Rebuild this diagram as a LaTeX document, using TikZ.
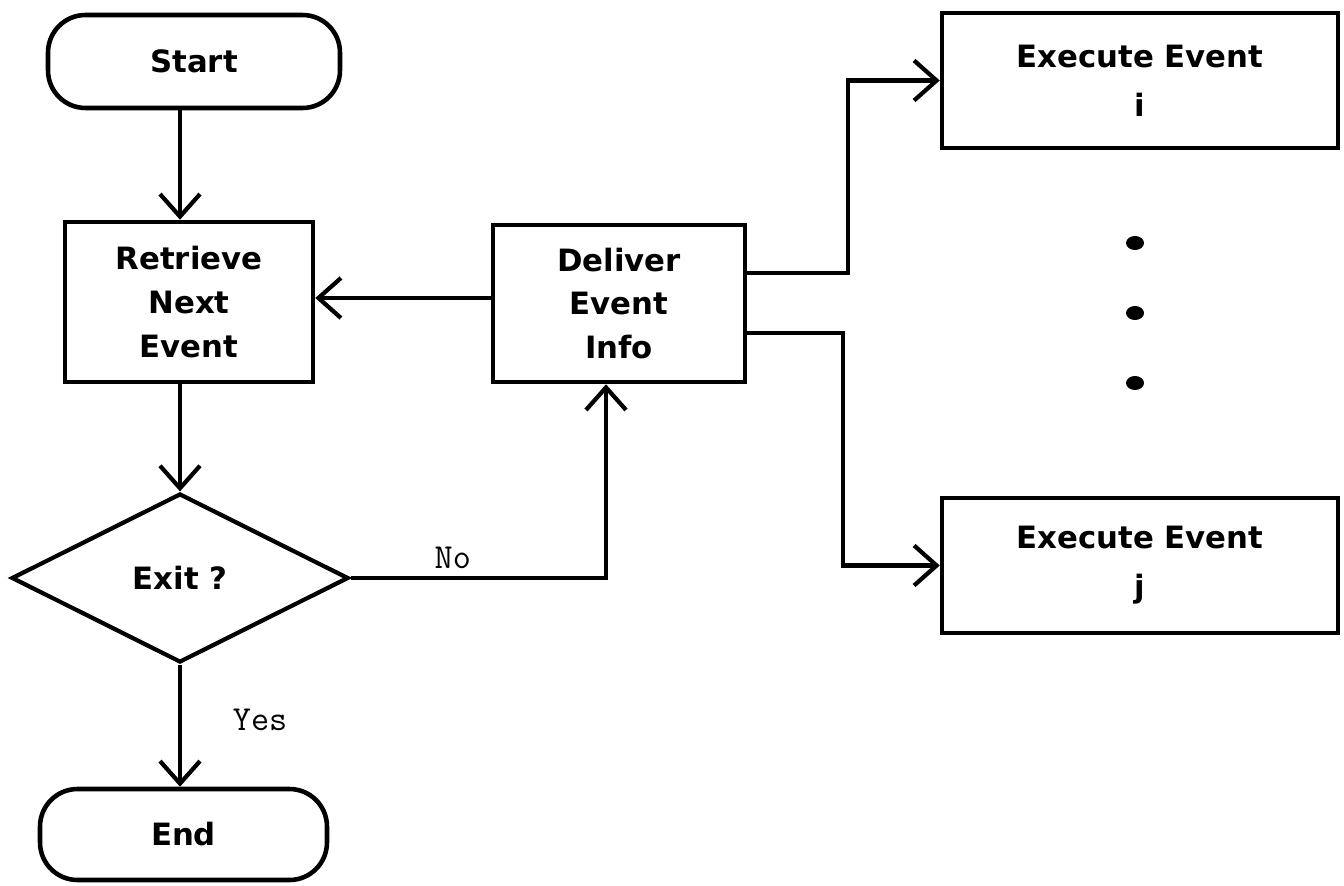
\documentclass[tikz,border=0pt]{standalone}
\usepackage{fontspec}
\setmainfont{DejaVu Sans}
\usetikzlibrary{arrows.meta,shapes.geometric}
\begin{document}
\begin{tikzpicture}[x=0.02cm,y=-0.02cm,
  box/.style={draw,line width=2.6pt,align=center,inner sep=0pt,
    font=\fontsize{17.5}{25}\selectfont\bfseries},
  term/.style={box,rounded corners=0.75cm},
  dec/.style={box,diamond,line width=2.4pt},
  exbox/.style={box,minimum width=7.92cm,minimum height=2.7cm,
    font=\fontsize{17.5}{28}\selectfont\bfseries},
  conn/.style={line width=2.4pt,-{Straight Barb[length=0.45cm,width=0.8cm]}},
  lbl/.style={font=\fontsize{20}{22}\selectfont\ttfamily},
  dotmark/.style={fill=black}]
\useasboundingbox[fill=white] (0,0) rectangle (1344,885);

\node[term,minimum width=5.84cm,minimum height=1.86cm] (start) at (194,61.5) {Start};
\node[box,minimum width=4.96cm,minimum height=3.2cm] (retrieve) at (189,302) {Retrieve\\Next\\Event};
\node[dec,minimum width=6.74cm,minimum height=3.38cm] (exit) at (180,578) {Exit ?};
\node[term,minimum width=5.74cm,minimum height=1.82cm] (end) at (183.5,834.5) {End};
\node[box,minimum width=5.04cm,minimum height=3.14cm] (deliver) at (619,303.5) {Deliver\\Event\\Info};
\node[exbox] (exi) at (1140,80.5) {Execute Event\\i};
\node[exbox] (exj) at (1140,565.5) {Execute Event\\j};

\coordinate (ax) at (180,0);
\coordinate (nx) at (606,0);
\coordinate (ry) at (0,298);
\coordinate (uy) at (0,273);
\coordinate (ly) at (0,333);
\coordinate (bx) at (848,0);
\coordinate (cx) at (843,0);

\draw[conn] (start.south -| ax) -- (retrieve.north -| ax);
\draw[conn] (retrieve.south -| ax) -- (exit.north);
\draw[conn] (exit.south) -- node[lbl,right=0.9cm,pos=0.45] {Yes} (exit.south |- end.north);
\draw[conn] (exit.east) -- node[lbl,above=1pt,pos=0.4] {No} (exit.east -| nx) -- (deliver.south -| nx);
\draw[conn] (deliver.west |- ry) -- (retrieve.east |- ry);
\draw[conn] (deliver.east |- uy) -- (uy -| bx) -- (bx |- exi.west) -- (exi.west);
\draw[conn] (deliver.east |- ly) -- (ly -| cx) -- (cx |- exj.west) -- (exj.west);

\fill[dotmark] (1135,243) ellipse [x radius=0.18cm, y radius=0.14cm];
\fill[dotmark] (1135,313) ellipse [x radius=0.18cm, y radius=0.14cm];
\fill[dotmark] (1135,383) ellipse [x radius=0.18cm, y radius=0.14cm];
\end{tikzpicture}
\end{document}
